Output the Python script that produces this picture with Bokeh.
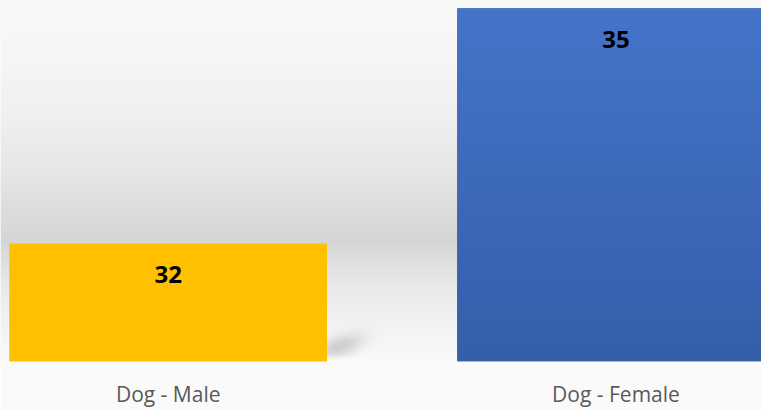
import numpy as np
from bokeh.plotting import figure
from bokeh.models import ColumnDataSource, LabelSet, FixedTicker
from bokeh.core.properties import value
from bokeh.embed import file_html
from bokeh.resources import INLINE

# ---- data ----
categories = ["Dog - Male", "Dog - Female"]
values = [32, 35]
x_pos = [0, 1]
top_colors = ["#FFC000", "#4574C9"]
bottom_colors = ["#FFC000", "#365FAA"]

Y_MIN, Y_MAX = 30.5, 35.1
X_MIN, X_MAX = -0.3745, 1.325
BAR_W = 0.709

p = figure(width=761, height=410, x_range=(X_MIN, X_MAX), y_range=(Y_MIN, Y_MAX),
           output_backend="svg", toolbar_location=None, y_axis_location=None,
           min_border_left=0, min_border_right=0, min_border_top=0, min_border_bottom=46)
p.outline_line_color = None
p.grid.visible = False
p.border_fill_color = "#fafafa"
p.background_fill_color = "#fafafa"


def rgba_image(r, g, b, a):
    h, w = r.shape
    im = np.empty((h, w), dtype=np.uint32)
    v = im.view(dtype=np.uint8).reshape((h, w, 4))
    v[:, :, 0] = r
    v[:, :, 1] = g
    v[:, :, 2] = b
    v[:, :, 3] = a
    return im


# ---- decorative background gradient (fractions of plot height from top) ----
stops_f = [0.0, 0.162, 0.323, 0.485, 0.593, 0.666, 0.714, 0.782, 0.863, 0.943, 1.0]
stops_g = [249, 246, 240, 230, 220, 213, 222, 232, 240, 246, 250]
rows = 364
f = 1 - (np.arange(rows) + 0.5) / rows
g = np.interp(f, stops_f, stops_g)
G = np.repeat(g[:, None], 4, axis=1).astype(np.uint8)
p.image_rgba(image=[rgba_image(G, G, G, np.full_like(G, 255))],
             x=X_MIN, y=Y_MIN, dw=X_MAX - X_MIN, dh=Y_MAX - Y_MIN)

# ---- soft shadow beside the first bar (decoration) ----
sw, sh = 64, 44
yy, xx = np.mgrid[0:sh, 0:sw].astype(float)
cx, cy = 12.0, 14.0
ang = np.deg2rad(20)
dx, dy = xx - cx, yy - cy
u = dx * np.cos(ang) + dy * np.sin(ang)
w_ = -dx * np.sin(ang) + dy * np.cos(ang)
alpha = 0.26 * np.exp(-((u / 24.0) ** 2 + (w_ / 10.0) ** 2))
alpha *= np.clip(yy / 6.0, 0, 1)
A = (alpha * 255).astype(np.uint8)
Z = np.full_like(A, 90)
p.image_rgba(image=[rgba_image(Z, Z, Z, A)], x=x_pos[0] + BAR_W / 2, y=Y_MIN,
             dw=sw / 447.8, dh=sh / 79.1)

# ---- bars ----
src = ColumnDataSource(dict(x=x_pos, top=values, color=bottom_colors,
                            label=[str(v) for v in values], cat=categories))
p.vbar(x="x", top="top", bottom=Y_MIN, width=BAR_W, fill_color="color", line_color=None, source=src)


def hex2rgb(h):
    h = h.lstrip("#")
    return np.array([int(h[i:i + 2], 16) for i in (0, 2, 4)], dtype=float)


for xv, v, ct, cb in zip(x_pos, values, top_colors, bottom_colors):
    n = 200
    t = np.linspace(0, 1, n)[:, None]
    a, b = hex2rgb(cb), hex2rgb(ct)
    rgb = a + (b - a) * t
    R = np.repeat(rgb[:, 0:1], 2, axis=1).astype(np.uint8)
    Gc = np.repeat(rgb[:, 1:2], 2, axis=1).astype(np.uint8)
    B = np.repeat(rgb[:, 2:3], 2, axis=1).astype(np.uint8)
    p.image_rgba(image=[rgba_image(R, Gc, B, np.full_like(R, 255))],
                 x=xv - BAR_W / 2, y=Y_MIN, dw=BAR_W, dh=v - Y_MIN)

labels = LabelSet(x="x", y="top", text="label", source=src, y_offset=-31,
                  text_align="center", text_baseline="middle",
                  text_font=value("Open Sans"), text_font_style="bold",
                  text_font_size="24px", text_color="#000000")
p.add_layout(labels)

# ---- axis ----
ax = p.xaxis[0]
ax.ticker = FixedTicker(ticks=x_pos)
ax.major_label_overrides = dict(zip(x_pos, categories))
ax.axis_line_color = None
ax.major_tick_line_color = None
ax.minor_tick_line_color = None
ax.major_label_text_font = "Open Sans"
ax.major_label_text_font_size = "21px"
ax.major_label_text_color = "#595959"
ax.major_label_standoff = 12

open("out.html", "w").write(file_html(p, INLINE))
